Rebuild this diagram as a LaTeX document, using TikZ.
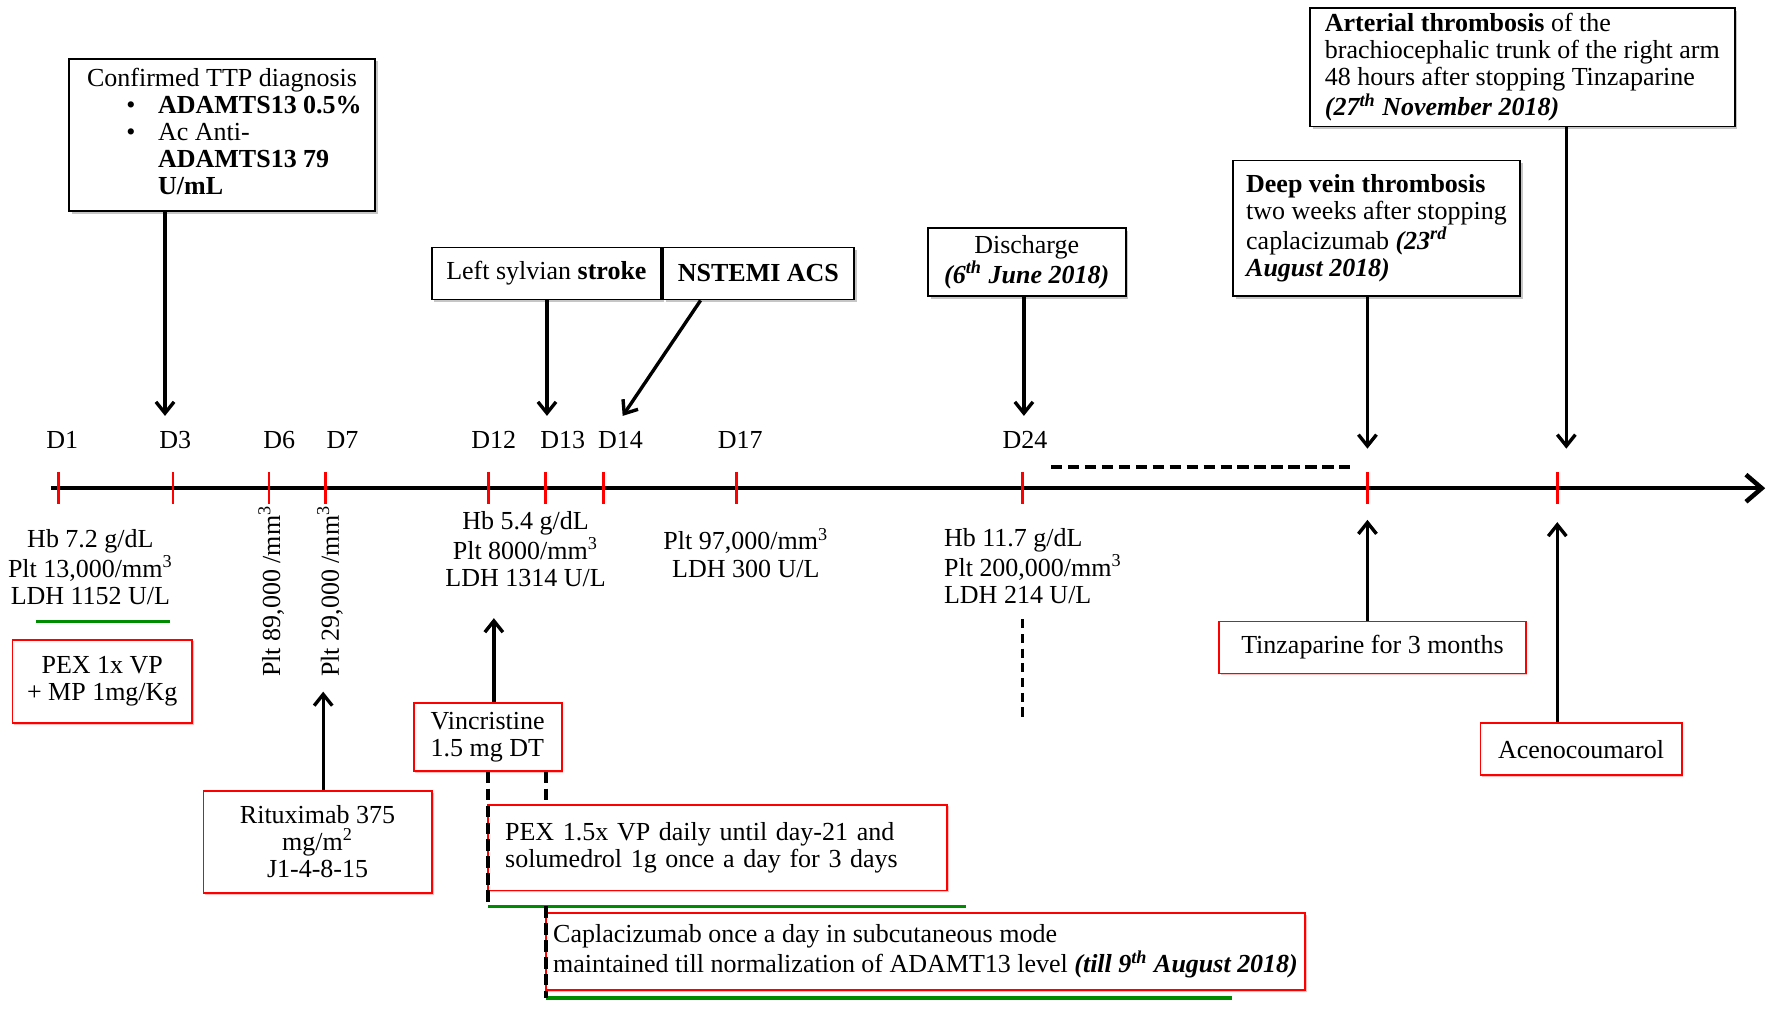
\documentclass[tikz,border=0pt]{standalone}
\usepackage{fontspec}
\setmainfont{Liberation Serif}
\usetikzlibrary{arrows.meta,shadows,calc}

\tikzset{
  blkbox/.style={draw=black, line width=0.8pt, fill=white, inner sep=0pt,
    drop shadow={shadow xshift=1.2pt, shadow yshift=-1.2pt, opacity=0.45}},
  redbox/.style={draw=red, line width=0.8pt, fill=white, inner sep=0pt,
    drop shadow={shadow xshift=0.8pt, shadow yshift=-0.8pt, fill=red!50, opacity=0.5}},
  arr/.style={line width=1.5pt, -{Straight Barb[length=5pt,width=8pt]}},
  dsh/.style={line width=1.6pt, dash pattern=on 5pt off 2.5pt},
  grn/.style={line width=1.5pt, green!55!black},
  lab/.style={align=center, inner sep=0pt},
}

\begin{document}
\begin{tikzpicture}[x=0.5pt,y=-0.5pt,font=\fontsize{11.5}{12}\selectfont]
  \useasboundingbox (0,0) rectangle (1568,902);

  % timeline
  \coordinate (start) at (45,432);
  \coordinate (end) at (1562,432);
  \foreach \n/\x in {1/52,3/153,6/238,7/288,12/432,13/483,14/534,17/652,24/905,dvt/1210,art/1378}
    \coordinate (t\n) at (\x,432);

  \draw[line width=2pt,-{Straight Barb[length=7pt,width=12pt]}] (start) -- (end);
  \foreach \n in {1,3,6,7,12,13,14,17,24,dvt,art}
    \draw[red,line width=1.2pt] ($(t\n)+(0,-14)$) -- ($(t\n)+(0,14)$);

  \foreach \n/\x in {1/55,3/155,6/247,7/303,12/437,13/498,14/549,17/655,24/907}
    \node[inner sep=0pt] (d\n) at (\x,389) {D\n};

  % events above
  \node[blkbox,minimum width=135.5pt,minimum height=67.5pt] (ttp) at (196.5,119.5) {%
    \begin{tabular}{@{\hspace{19.5pt}}l@{\hspace{10pt}}l@{}}
      \multicolumn{2}{@{}c@{}}{Confirmed TTP diagnosis}\\
      \textbullet & \textbf{ADAMTS13 0.5\%}\\
      \textbullet & Ac Anti-\\
      & \textbf{ADAMTS13 79}\\
      & \textbf{U/mL}
    \end{tabular}};
  \node[blkbox,minimum width=101.5pt,minimum height=23pt] (stroke) at (483.5,242) {Left sylvian \textbf{stroke}};
  \node[blkbox,minimum width=84.5pt,minimum height=23pt,anchor=west] (nstemi) at (stroke.east) {\textbf{NSTEMI ACS}};
  \node[blkbox,minimum width=87.5pt,minimum height=30pt,align=center] (disc) at (908.5,232) {Discharge\\\textbf{\textit{(6\textsuperscript{th} June 2018)}}};
  \node[blkbox,minimum width=127pt,minimum height=60pt,align=left] (dvt) at (1218,202) {\textbf{Deep vein thrombosis}\\two weeks after stopping\\caplacizumab \textbf{\textit{(23\textsuperscript{rd}}}\\\textbf{\textit{August 2018)}}};
  \node[blkbox,minimum width=188pt,minimum height=52.5pt,align=left] (art) at (1347,59.5) {\textbf{Arterial thrombosis} of the\\brachiocephalic trunk of the right arm\\48 hours after stopping Tinzaparine\\\textbf{\textit{(27\textsuperscript{th} November 2018)}}};

  \coordinate (a3) at (146,368);
  \coordinate (a13) at (484,368);
  \coordinate (a14) at (551,368);
  \coordinate (a24) at (906,368);
  \coordinate (advt) at (1210,397);
  \coordinate (aart) at (1386,397);
  \draw[arr] (ttp.south -| a3) -- (a3);
  \draw[arr] (stroke.south -| a13) -- (a13);
  \draw[arr] ($(nstemi.south west)!0.2!(nstemi.south east)$) -- (a14);
  \draw[arr] (disc.south -| a24) -- (a24);
  \draw[arr] (dvt.south -| advt) -- (advt);
  \draw[arr] (art.south -| aart) -- (aart);

  % lab values
  \node[lab] (lab1) at (80,502) {Hb 7.2 g/dL\\Plt 13,000/mm\textsuperscript{3}\\LDH 1152 U/L};
  \node[lab,rotate=90] (lab6) at (240,523) {Plt 89,000 /mm\textsuperscript{3}};
  \node[lab,rotate=90] (lab7) at (292,523) {Plt 29,000 /mm\textsuperscript{3}};
  \node[lab] (lab12) at (465,486) {Hb 5.4 g/dL\\Plt 8000/mm\textsuperscript{3}\\LDH 1314 U/L};
  \node[lab] (lab17) at (660,489) {Plt 97,000/mm\textsuperscript{3}\\LDH 300 U/L};
  \node[lab,align=left,anchor=west] (lab24) at (835,501) {Hb 11.7 g/dL\\Plt 200,000/mm\textsuperscript{3}\\LDH 214 U/L};

  % treatments
  \node[redbox,minimum width=79.5pt,minimum height=37pt,align=center] (pex1) at (90.5,603) {PEX 1x VP\\+ MP 1mg/Kg};
  \node[redbox,minimum width=101pt,minimum height=45pt,align=center] (ritux) at (281,745) {Rituximab 375\\mg/m\textsuperscript{2}\\J1-4-8-15};
  \node[redbox,minimum width=65.5pt,minimum height=30pt,align=left] (vinc) at (431.5,652) {Vincristine\\1.5 mg DT};
  \node[redbox,minimum width=203pt,minimum height=38pt,text width=188pt,inner xsep=7.5pt,align=left] (pex2) at (635,750) {PEX 1.5x VP daily until day-21 and\\solumedrol 1g once a day for 3 days};
  \node[redbox,minimum width=336pt,minimum height=34pt,align=left] (capla) at (819,842) {Caplacizumab once a day in subcutaneous mode\\maintained till normalization of ADAMT13 level \textbf{\textit{(till 9\textsuperscript{th} August 2018)}}};
  \node[redbox,minimum width=135.5pt,minimum height=23pt] (tinza) at (1214.5,573) {Tinzaparine for 3 months};
  \node[redbox,minimum width=89pt,minimum height=23pt] (aceno) at (1399,663) {Acenocoumarol};

  \coordinate (u7) at (286,612);
  \coordinate (u12) at (437,547);
  \coordinate (udvt) at (1210,460);
  \coordinate (uart) at (1378,462);
  \draw[arr] (ritux.north -| u7) -- (u7);
  \draw[arr] (vinc.north -| u12) -- (u12);
  \draw[arr] (tinza.north -| udvt) -- (udvt);
  \draw[arr] (aceno.north -| uart) -- (uart);

  % durations
  \coordinate (g0a) at (32,550);
  \coordinate (g0b) at (150,550);
  \coordinate (g1a) at (432,802);
  \coordinate (g1b) at (855,802);
  \coordinate (g2a) at (483,883);
  \coordinate (g2b) at (1090,883);
  \draw[grn] (g0a) -- (g0b);
  \draw[grn] (g1a) -- (g1b);
  \draw[grn] (g2a) -- (g2b);
  \draw[dsh] (vinc.south -| g1a) -- (g1a);
  \draw[dsh] (vinc.south -| g2a) -- (pex2.north -| g2a);
  \draw[dsh] (g1a -| g2a) -- (g2a);

  \coordinate (h1) at (930,413);
  \coordinate (h2) at (1197,413);
  \draw[dsh] (h1) -- (h2);
  \coordinate (v1) at (905,548);
  \coordinate (v2) at (905,638);
  \draw[dsh,line width=1.4pt,dash pattern=on 4pt off 2.5pt] (v1) -- (v2);
\end{tikzpicture}
\end{document}
